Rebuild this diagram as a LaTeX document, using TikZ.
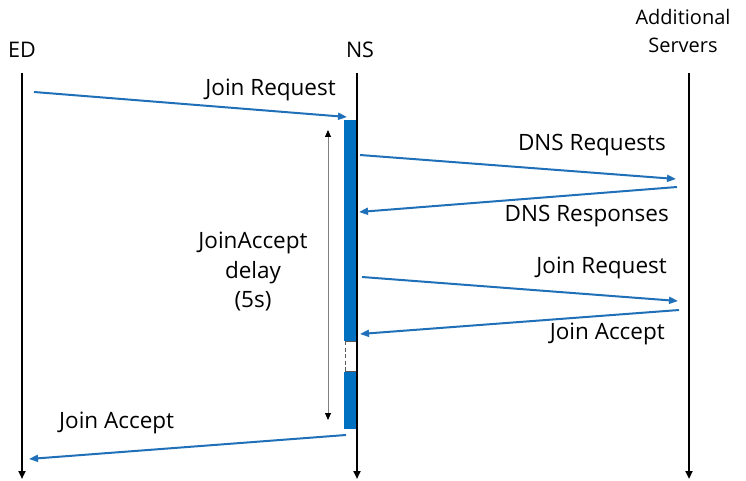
\documentclass[tikz,border=0pt]{standalone}
\usepackage{fontspec}
\setmainfont{Open Sans}
\usetikzlibrary{arrows.meta}
\definecolor{msgblue}{RGB}{31,112,184}
\definecolor{barblue}{RGB}{0,112,192}
\tikzset{
  lifeline/.style={line width=2.4pt, -{Triangle[length=8pt,width=7pt]}},
  msg/.style={draw=msgblue, line width=2pt, -{Triangle[length=9pt,width=7pt]}},
  lbl/.style={font=\fontsize{22.5}{26}\selectfont, inner sep=0pt},
  head/.style={font=\fontsize{21.5}{28}\selectfont, inner sep=0pt, align=center},
}
\begin{document}
\begin{tikzpicture}[x=1pt,y=-1pt]
\useasboundingbox (0,0) rectangle (746,481);

% column headings
\node[head] (edh) at (22,50) {ED};
\node[head] (nsh) at (360,50) {NS};
\node[head, font=\fontsize{20}{28}\selectfont] (ash) at (683,31) {Additional\\Servers};

% lifelines
\coordinate (edt) at (22,73);  \coordinate (edb) at (22,479);
\coordinate (nst) at (357,73); \coordinate (nsb) at (357,479);
\coordinate (ast) at (689,73); \coordinate (asb) at (689,479);

% processing bar on NS with idle gap
\fill[barblue] (344,120) rectangle (357,341);
\fill[barblue] (344,372) rectangle (357,429);
\draw[gray!70!black, dash pattern=on 4pt off 2.5pt, line width=1.3pt] (345.5,341) -- (345.5,372);
\draw[gray!70!black, line width=1pt] (345,341.5) -- (356,341.5) (345,371.5) -- (356,371.5);

\draw[lifeline] (edt) -- (edb);
\draw[lifeline] (nst) -- (nsb);
\draw[lifeline] (ast) -- (asb);

% delay span
\coordinate (dt) at (328,130);
\coordinate (db) at (328,420);
\draw[gray, line width=0.8pt, {Triangle[length=7pt,width=6pt,color=black]}-{Triangle[length=7pt,width=6pt,color=black]}] (dt) -- (db);
\node[head, font=\fontsize{22.5}{29.5}\selectfont] (delay) at (253,272) {JoinAccept\\delay\\(5s)};

% messages
\coordinate (m1a) at (34,92);   \coordinate (m1b) at (347,117);
\coordinate (m2a) at (360,155); \coordinate (m2b) at (676,179);
\coordinate (m3a) at (677,187); \coordinate (m3b) at (359,212);
\coordinate (m4a) at (362,277); \coordinate (m4b) at (678,301);
\coordinate (m5a) at (679,310); \coordinate (m5b) at (360,334);
\coordinate (m6a) at (346,435); \coordinate (m6b) at (29,459);
\draw[msg] (m1a) -- (m1b);
\draw[msg] (m2a) -- (m2b);
\draw[msg] (m3a) -- (m3b);
\draw[msg] (m4a) -- (m4b);
\draw[msg] (m5a) -- (m5b);
\draw[msg] (m6a) -- (m6b);

% message labels
\node[lbl, anchor=east] (l1) at (336,90) {Join Request};
\node[lbl, anchor=east] (l2) at (666,145) {DNS Requests};
\node[lbl, anchor=east] (l3) at (669,216) {DNS Responses};
\node[lbl, anchor=east] (l4) at (667,268) {Join Request};
\node[lbl, anchor=east] (l5) at (665,334) {Join Accept};
\node[lbl, anchor=west] (l6) at (59,423) {Join Accept};
\end{tikzpicture}
\end{document}
